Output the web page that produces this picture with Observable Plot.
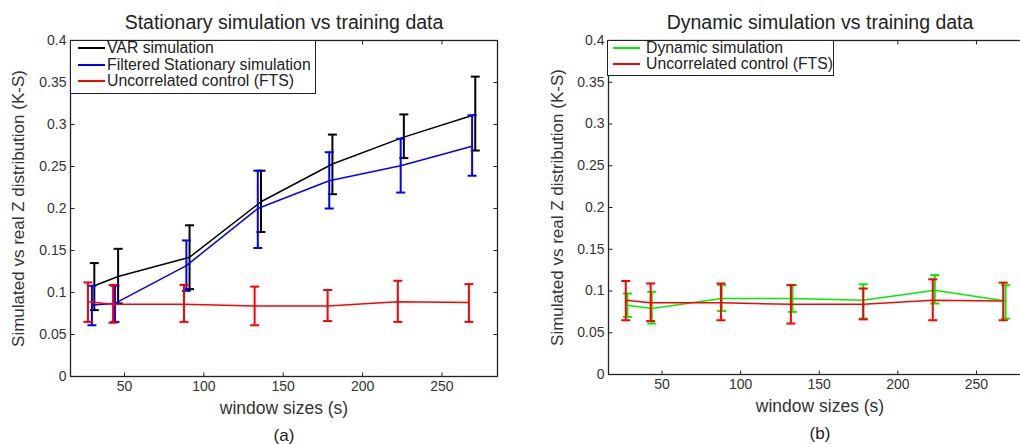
<!DOCTYPE html>
<html><head><meta charset="utf-8">
<script src="https://cdn.jsdelivr.net/npm/d3@7"></script>
<script src="https://cdn.jsdelivr.net/npm/@observablehq/plot@0.6"></script>
<style>
html,body{margin:0;padding:0;background:#fff;overflow:hidden;width:1020px;height:444px}
#wrap{position:relative;width:1020px;height:444px;overflow:hidden;background:#fff}
.panel{position:absolute;top:0}
.legend{position:absolute;background:#fff;border:1.5px solid #222;box-sizing:border-box;font-family:"Liberation Sans",Arial,sans-serif;font-size:15.8px;color:#222}
.legend .sw{position:absolute;height:2px}
.legend .lb{position:absolute;white-space:nowrap;line-height:16px;height:16px}
</style>
</head><body>
<div id="wrap"></div>
<script>
// ---------- data ----------
const xTicks = [50, 100, 150, 200, 250];
const yTicks = [0, 0.05, 0.1, 0.15, 0.2, 0.25, 0.3, 0.35, 0.4];

// VAR simulation (black)
const winVAR  = [31, 46, 91, 136, 181, 226, 271];
const varMean = [0.108, 0.119, 0.142, 0.208, 0.253, 0.285, 0.312];
const varLow  = [0.079, 0.087, 0.104, 0.172, 0.217, 0.260, 0.269];
const varHigh = [0.135, 0.152, 0.180, 0.245, 0.288, 0.312, 0.357];

// Filtered Stationary simulation (blue)
const winFilt  = [29.5, 44, 89, 134, 179, 224, 269];
const filtMean = [0.085, 0.087, 0.132, 0.200, 0.233, 0.251, 0.274];
const filtLow  = [0.061, 0.065, 0.102, 0.153, 0.200, 0.219, 0.239];
const filtHigh = [0.108, 0.108, 0.162, 0.245, 0.267, 0.283, 0.311];

// Uncorrelated control (FTS) (red)
const winFTS  = [27, 42.8, 87.5, 132, 178, 222.2, 267];
const ftsMean = [0.089, 0.086, 0.086, 0.084, 0.084, 0.089, 0.088];
const ftsLow  = [0.065, 0.064, 0.065, 0.061, 0.066, 0.065, 0.065];
const ftsHigh = [0.112, 0.109, 0.109, 0.107, 0.103, 0.114, 0.110];

// Dynamic simulation (green)
const winDyn  = [28, 43.5, 88, 133, 178, 223.5, 268.5];
const dynMean = [0.083, 0.079, 0.091, 0.091, 0.089, 0.101, 0.088];
const dynLow  = [0.069, 0.061, 0.076, 0.075, 0.067, 0.085, 0.067];
const dynHigh = [0.097, 0.099, 0.107, 0.107, 0.108, 0.119, 0.107];

const titles = ["Stationary simulation vs training data", "Dynamic simulation vs training data"];
const yLabel = "Simulated vs real Z distribution (K-S)";
const xLabel = "window sizes (s)";
const panelTags = ["(a)", "(b)"];

const legendA = [
  {label: "VAR simulation", color: "#000000"},
  {label: "Filtered Stationary simulation", color: "#0000ff"},
  {label: "Uncorrelated control (FTS)", color: "#ff0000"}
];
const legendB = [
  {label: "Dynamic simulation", color: "#00ee00"},
  {label: "Uncorrelated control (FTS)", color: "#ff0000"}
];

// ---------- helpers ----------
const rows = (w, m, lo, hi) => w.map((x, i) => ({x, m: m[i], lo: lo[i], hi: hi[i]}));
const sym = (f) => ({draw(ctx, size) { const r = Math.sqrt(size / Math.PI); f(ctx, r); }});
const capSym = sym((c, r) => { c.moveTo(-r, 0); c.lineTo(r, 0); });
const tickRight = sym((c, r) => { c.moveTo(0, 0); c.lineTo(r, 0); });
const tickLeft = sym((c, r) => { c.moveTo(0, 0); c.lineTo(-r, 0); });
const tickUp = sym((c, r) => { c.moveTo(0, 0); c.lineTo(0, -r); });
const tickDown = sym((c, r) => { c.moveTo(0, 0); c.lineTo(0, r); });
const fmt = d => String(+d.toFixed(2));

function series(data, color) {
  return [
    Plot.line(data, {x: "x", y: "m", stroke: color, strokeWidth: 1.5}),
    Plot.ruleX(data, {x: "x", y1: "lo", y2: "hi", stroke: color, strokeWidth: 2}),
    Plot.dot(data, {x: "x", y: "lo", symbol: capSym, r: 4.5, fill: "none", stroke: color, strokeWidth: 2}),
    Plot.dot(data, {x: "x", y: "hi", symbol: capSym, r: 4.5, fill: "none", stroke: color, strokeWidth: 2})
  ];
}

function frameTicks() {
  const tc = {fill: "none", stroke: "#222", strokeWidth: 1, r: 4};
  return [
    Plot.dot(yTicks, {y: d => d, frameAnchor: "left", symbol: tickRight, ...tc}),
    Plot.dot(yTicks, {y: d => d, frameAnchor: "right", symbol: tickLeft, ...tc}),
    Plot.dot(xTicks, {x: d => d, frameAnchor: "bottom", symbol: tickUp, ...tc}),
    Plot.dot(xTicks, {x: d => d, frameAnchor: "top", symbol: tickDown, ...tc})
  ];
}

function panel({width, marginLeft, marginRight, marginTop, marginBottom, title, tag, seriesMarks, yLabelDx}) {
  return Plot.plot({
    width, height: 444, marginLeft, marginRight, marginTop, marginBottom,
    style: {fontFamily: "Liberation Sans, Arial, sans-serif", fontSize: "14px", color: "#333", background: "#fff"},
    x: {domain: [16, 285]},
    y: {domain: [0, 0.4]},
    marks: [
      ...seriesMarks,
      Plot.frame({stroke: "#222", strokeWidth: 1.3}),
      ...frameTicks(),
      Plot.axisX({ticks: xTicks, tickSize: 0, tickPadding: 5, label: null, fontSize: 14}),
      Plot.axisY({ticks: yTicks, tickSize: 0, tickPadding: 4, tickFormat: fmt, label: null, fontSize: 14}),
      Plot.text([title], {text: d => d, frameAnchor: "top", dy: -18, textAnchor: "middle", lineAnchor: "middle", fontSize: 19.5, fill: "#222"}),
      Plot.text([xLabel], {text: d => d, frameAnchor: "bottom", dy: 32, textAnchor: "middle", lineAnchor: "middle", fontSize: 17.5, fill: "#333"}),
      Plot.text([tag], {text: d => d, frameAnchor: "bottom", dy: 59, textAnchor: "middle", lineAnchor: "middle", fontSize: 17, fill: "#222"}),
      Plot.text([yLabel], {text: d => d, frameAnchor: "left", dx: yLabelDx, rotate: -90, textAnchor: "middle", lineAnchor: "middle", fontSize: 17, fill: "#333"})
    ]
  });
}

const wrap = document.getElementById("wrap");

const dVAR = rows(winVAR, varMean, varLow, varHigh);
const dFilt = rows(winFilt, filtMean, filtLow, filtHigh);
const dFTS = rows(winFTS, ftsMean, ftsLow, ftsHigh);
const dDyn = rows(winDyn, dynMean, dynLow, dynHigh);

const pA = panel({
  width: 521, marginLeft: 70, marginRight: 24, marginTop: 40, marginBottom: 68,
  title: titles[0], tag: panelTags[0], yLabelDx: -52,
  seriesMarks: [...series(dVAR, "#000000"), ...series(dFilt, "#0000ff"), ...series(dFTS, "#ff0000")]
});
pA.classList.add("panel"); pA.style.left = "0px";
wrap.appendChild(pA);

const pB = panel({
  width: 534, marginLeft: 88, marginRight: 23, marginTop: 40, marginBottom: 70,
  title: titles[1], tag: panelTags[1], yLabelDx: -51,
  seriesMarks: [...series(dDyn, "#00ee00"), ...series(dFTS, "#ff0000")]
});
pB.classList.add("panel"); pB.style.left = "520px";
wrap.appendChild(pB);

function legend(items, left, top, width, rowH, swLeft, txtLeft) {
  const box = document.createElement("div");
  box.className = "legend";
  box.style.left = left + "px"; box.style.top = top + "px";
  box.style.width = width + "px"; box.style.height = (items.length * rowH + 4) + "px";
  items.forEach((it, i) => {
    const cy = 7 + i * rowH;
    const sw = document.createElement("div");
    sw.className = "sw"; sw.style.backgroundColor = it.color;
    sw.style.left = swLeft + "px"; sw.style.width = "27px"; sw.style.top = (cy - 1) + "px";
    const lb = document.createElement("div");
    lb.className = "lb"; lb.textContent = it.label;
    lb.style.left = txtLeft + "px"; lb.style.top = (cy - 8) + "px";
    box.appendChild(sw); box.appendChild(lb);
  });
  wrap.appendChild(box);
}
legend(legendA, 70, 40, 246, 16.5, 7, 36);
legend(legendB, 607, 40, 227, 16, 5, 38);
</script>
</body></html>
